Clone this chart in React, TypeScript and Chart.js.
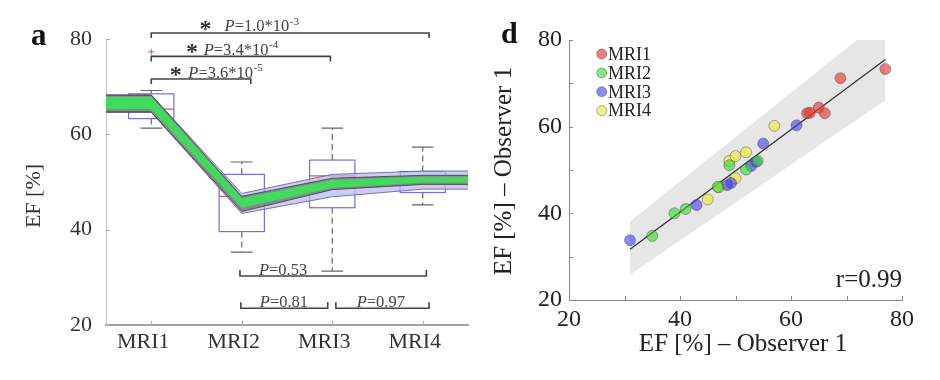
import React, { useEffect, useRef } from "react";
import { Chart, registerables } from "chart.js";
Chart.register(...registerables);

const FONT = "'Liberation Serif', 'Times New Roman', serif";

// ---------- Panel a: EF over visits ----------
const visits = ["MRI1", "MRI2", "MRI3", "MRI4"];
const visitPos = [1, 2, 3, 4];
const boxQ1 = [63.3, 39.6, 44.6, 47.8];
const boxMedian = [65.3, 47.0, 51.3, 50.8];
const boxQ3 = [68.5, 51.6, 54.6, 52.2];
const whiskerLow = [61.3, 35.3, 31.3, 45.2];
const whiskerHigh = [69.2, 54.2, 61.3, 57.3];
const outlierX = [1];
const outlierY = [77.3];

const bandX = [0.5, 1, 2, 3, 4, 4.5];
const greenUpper = [67.9, 67.9, 46.6, 50.4, 51.1, 51.1];
const greenLower = [65.3, 65.3, 44.6, 48.8, 49.9, 49.9];
const grayUpper = [68.2, 68.2, 47.0, 50.8, 51.4, 51.4];
const grayLower = [64.7, 64.7, 43.8, 48.4, 49.5, 49.5];
const lavUpper = [68.3, 68.3, 47.6, 51.6, 52.3, 52.3];
const lavLower = [64.6, 64.6, 43.4, 46.9, 48.5, 48.5];

const bracketFrom = [1.0, 1.0, 1.0, 1.98, 1.99, 3.04];
const bracketTo = [4.07, 2.98, 2.1, 4.04, 2.95, 4.07];
const bracketLevel = [81.26, 76.35, 71.6, 30.27, 23.5, 23.5];
const bracketText = ["P=1.0*10", "P=3.4*10", "P=3.6*10", "P=0.53", "P=0.81", "P=0.97"];
const bracketExp = ["-3", "-4", "-5", "", "", ""];
const bracketStar = [true, true, true, false, false, false];
const bracketStarX = [1.6, 1.45, 1.27, 0, 0, 0];
const bracketTextX = [1.81, 1.58, 1.41, 2.19, 2.2, 3.27];

// ---------- Panel d: observer agreement ----------
const seriesNames = ["MRI1", "MRI2", "MRI3", "MRI4"];
const seriesColors = [
  "rgba(235,55,55,0.65)",
  "rgba(50,215,50,0.6)",
  "rgba(60,60,235,0.6)",
  "rgba(235,235,60,0.65)",
];
const mri1X = [77.0, 68.9, 62.9, 63.4, 65.0, 66.1];
const mri1Y = [73.3, 71.2, 63.1, 63.2, 64.4, 63.1];
const mri2X = [35.0, 39.0, 41.0, 46.8, 48.9, 51.9, 54.0];
const mri2Y = [34.8, 40.0, 41.0, 46.1, 51.1, 50.1, 52.1];
const mri3X = [31.0, 43.0, 48.5, 49.2, 52.8, 53.7, 55.0, 61.0];
const mri3Y = [33.8, 41.9, 46.5, 47.0, 50.9, 51.9, 56.1, 60.3];
const mri4X = [45.0, 47.0, 48.9, 50.0, 50.0, 51.9, 57.0];
const mri4Y = [43.2, 46.0, 52.1, 53.2, 48.1, 54.1, 60.2];
const regX = [31, 77];
const regY = [31.7, 75.5];
const piX = [31, 77];
const piUpper = [38.1, 85.3];
const piLower = [25.8, 66.1];
const rText = "r=0.99";

const mk = (xs: number[], ys: number[]) => xs.map((x, i) => ({ x, y: ys[i] }));

function drawPText(ctx: CanvasRenderingContext2D, x: number, baseline: number, text: string, exp: string, size: number) {
  ctx.fillStyle = "#444";
  ctx.textBaseline = "alphabetic";
  ctx.textAlign = "left";
  ctx.font = `italic ${size}px ${FONT}`;
  ctx.fillText(text[0], x, baseline);
  let w = ctx.measureText(text[0]).width;
  ctx.font = `${size}px ${FONT}`;
  const rest = text.slice(1);
  ctx.fillText(rest, x + w, baseline);
  w += ctx.measureText(rest).width;
  if (exp) {
    ctx.font = `${Math.round(size * 0.65)}px ${FONT}`;
    ctx.fillText(exp, x + w + 0.5, baseline - size * 0.42);
  }
}

const leftPlugin = {
  id: "leftDecor",
  beforeDatasetsDraw(chart: any) {
    const { ctx, scales } = chart;
    const x = scales.x, y = scales.y;
    ctx.save();
    for (let i = 0; i < visitPos.length; i++) {
      const cx = x.getPixelForValue(visitPos[i]);
      const hw = x.getPixelForValue(visitPos[i] + 0.25) - cx;
      const cw = x.getPixelForValue(visitPos[i] + 0.12) - cx;
      const yq1 = y.getPixelForValue(boxQ1[i]);
      const yq3 = y.getPixelForValue(boxQ3[i]);
      const ylo = y.getPixelForValue(whiskerLow[i]);
      const yhi = y.getPixelForValue(whiskerHigh[i]);
      const ymed = y.getPixelForValue(boxMedian[i]);
      ctx.strokeStyle = "#666";
      ctx.lineWidth = 1.2;
      ctx.setLineDash([6, 4]);
      ctx.beginPath();
      ctx.moveTo(cx, yq3); ctx.lineTo(cx, yhi);
      ctx.moveTo(cx, yq1); ctx.lineTo(cx, ylo);
      ctx.stroke();
      ctx.setLineDash([]);
      ctx.beginPath();
      ctx.moveTo(cx - cw, yhi); ctx.lineTo(cx + cw, yhi);
      ctx.moveTo(cx - cw, ylo); ctx.lineTo(cx + cw, ylo);
      ctx.stroke();
      ctx.strokeStyle = "#6f6fe6";
      ctx.lineWidth = 1.2;
      ctx.strokeRect(cx - hw, yq3, 2 * hw, yq1 - yq3);
      ctx.strokeStyle = "#e85050";
      ctx.beginPath();
      ctx.moveTo(cx - hw, ymed); ctx.lineTo(cx + hw, ymed);
      ctx.stroke();
    }
    ctx.strokeStyle = "#e85050";
    ctx.lineWidth = 1;
    for (let i = 0; i < outlierX.length; i++) {
      const px = x.getPixelForValue(outlierX[i]);
      const py = y.getPixelForValue(outlierY[i]);
      ctx.beginPath();
      ctx.moveTo(px - 3, py); ctx.lineTo(px + 3, py);
      ctx.moveTo(px, py - 3); ctx.lineTo(px, py + 3);
      ctx.stroke();
    }
    ctx.restore();
  },
  afterDraw(chart: any) {
    const { ctx, scales, chartArea } = chart;
    const x = scales.x, y = scales.y;
    ctx.save();
    ctx.strokeStyle = "#aaa";
    ctx.lineWidth = 1;
    ctx.beginPath();
    for (const t of y.ticks) {
      const py = Math.round(y.getPixelForValue(t.value)) + 0.5;
      ctx.moveTo(chartArea.left, py); ctx.lineTo(chartArea.left + 4, py);
    }
    for (const v of visitPos) {
      const px = Math.round(x.getPixelForValue(v)) + 0.5;
      ctx.moveTo(px, chartArea.bottom); ctx.lineTo(px, chartArea.bottom - 4);
    }
    ctx.stroke();
    ctx.strokeStyle = "#444";
    ctx.lineWidth = 1.6;
    for (let i = 0; i < bracketFrom.length; i++) {
      const x1 = x.getPixelForValue(bracketFrom[i]);
      const x2 = x.getPixelForValue(bracketTo[i]);
      const py = y.getPixelForValue(bracketLevel[i]);
      const d = bracketStar[i] ? 5 : -6;
      ctx.beginPath();
      ctx.moveTo(x1, py + d); ctx.lineTo(x1, py); ctx.lineTo(x2, py); ctx.lineTo(x2, py + d);
      ctx.stroke();
      if (bracketStar[i]) {
        ctx.fillStyle = "#333";
        ctx.font = `bold 24px ${FONT}`;
        ctx.textAlign = "center";
        ctx.textBaseline = "alphabetic";
        ctx.fillText("*", x.getPixelForValue(bracketStarX[i]), py + 3);
      }
      drawPText(ctx, x.getPixelForValue(bracketTextX[i]), py - 1.5, bracketText[i], bracketExp[i], 16.5);
    }
    ctx.fillStyle = "#111";
    ctx.font = `bold 31px ${FONT}`;
    ctx.textAlign = "left";
    ctx.textBaseline = "alphabetic";
    ctx.fillText("a", 31, 45);
    ctx.save();
    ctx.translate(40, 196);
    ctx.rotate(-Math.PI / 2);
    ctx.fillStyle = "#333";
    ctx.font = `22px ${FONT}`;
    ctx.textAlign = "center";
    ctx.textBaseline = "alphabetic";
    ctx.fillText("EF [%]", 0, 0);
    ctx.restore();
    ctx.restore();
  },
};

const rightPlugin = {
  id: "rightDecor",
  afterDraw(chart: any) {
    const { ctx, scales, chartArea } = chart;
    const x = scales.x, y = scales.y;
    ctx.save();
    ctx.strokeStyle = "#888";
    ctx.lineWidth = 1;
    ctx.beginPath();
    for (const t of y.ticks) {
      const py = Math.round(y.getPixelForValue(t.value)) + 0.5;
      ctx.moveTo(chartArea.left, py); ctx.lineTo(chartArea.left + 4, py);
    }
    for (const t of x.ticks) {
      const px = Math.round(x.getPixelForValue(t.value)) + 0.5;
      ctx.moveTo(px, chartArea.bottom); ctx.lineTo(px, chartArea.bottom - 4);
    }
    ctx.stroke();
    for (let i = 0; i < seriesNames.length; i++) {
      const cy = 54 + i * 18.9;
      ctx.beginPath();
      ctx.arc(131.7, cy, 5, 0, Math.PI * 2);
      ctx.fillStyle = seriesColors[i];
      ctx.fill();
      ctx.strokeStyle = "rgba(70,70,70,0.55)";
      ctx.lineWidth = 0.8;
      ctx.stroke();
      ctx.fillStyle = "#222";
      ctx.font = `18px ${FONT}`;
      ctx.textAlign = "left";
      ctx.textBaseline = "middle";
      ctx.fillText(seriesNames[i], 138, cy + 1);
    }
    ctx.fillStyle = "#222";
    ctx.font = `25px ${FONT}`;
    ctx.textAlign = "right";
    ctx.textBaseline = "alphabetic";
    ctx.fillText(rText, chartArea.right, 287);
    ctx.fillStyle = "#111";
    ctx.font = `bold 30px ${FONT}`;
    ctx.textAlign = "left";
    ctx.fillText("d", 31, 43);
    ctx.fillStyle = "#222";
    ctx.font = `25px ${FONT}`;
    ctx.textAlign = "center";
    ctx.textBaseline = "middle";
    ctx.fillText("EF [%] \u2013 Observer 1", 273, 344);
    ctx.save();
    ctx.translate(34, 171);
    ctx.rotate(-Math.PI / 2);
    ctx.fillText("EF [%] \u2013 Observer 1", 0, 0);
    ctx.restore();
    ctx.restore();
  },
};

function leftConfig(): any {
  const line = { pointRadius: 0, pointHoverRadius: 0, tension: 0 };
  return {
    type: "line",
    data: {
      datasets: [
        { ...line, data: mk(bandX, greenUpper), borderWidth: 0, borderColor: "rgba(0,0,0,0)", fill: false },
        { ...line, data: mk(bandX, greenLower), borderWidth: 0, borderColor: "rgba(0,0,0,0)", fill: "-1", backgroundColor: "#3fdc5c" },
        { ...line, data: mk(bandX, grayUpper), borderWidth: 1, borderColor: "rgba(60,60,60,0.8)", fill: false },
        { ...line, data: mk(bandX, grayLower), borderWidth: 1, borderColor: "rgba(60,60,60,0.8)", fill: "-1", backgroundColor: "rgba(125,125,125,0.85)" },
        { ...line, data: mk(bandX, lavUpper), borderWidth: 1, borderColor: "rgba(90,90,150,0.8)", fill: false },
        { ...line, data: mk(bandX, lavLower), borderWidth: 1, borderColor: "rgba(90,90,150,0.8)", fill: "-1", backgroundColor: "rgba(185,185,240,0.75)" },
      ],
    },
    options: {
      responsive: false,
      maintainAspectRatio: false,
      devicePixelRatio: 1,
      animation: false,
      events: [],
      layout: { padding: { left: 0, right: 2, top: 39, bottom: 0 } },
      plugins: { legend: { display: false }, tooltip: { enabled: false } },
      scales: {
        x: {
          type: "linear",
          min: 0.5,
          max: 4.5,
          afterBuildTicks: (ax: any) => { ax.ticks = visitPos.map((v) => ({ value: v })); },
          afterFit: (s: any) => { s.height = 55; },
          ticks: {
            callback: (v: number) => visits[visitPos.indexOf(v)] ?? "",
            font: { family: FONT, size: 22 },
            color: "#333",
            padding: 4,
            labelOffset: -8,
            maxRotation: 0,
            autoSkip: false,
          },
          grid: { drawOnChartArea: false, drawTicks: false },
          border: { display: true, color: "#9aa894", width: 2 },
        },
        y: {
          min: 20,
          max: 80,
          afterFit: (s: any) => { s.width = 106; },
          ticks: { stepSize: 20, font: { family: FONT, size: 22 }, color: "#333", padding: 14 },
          grid: { drawOnChartArea: false, drawTicks: false },
          border: { display: true, color: "#c4c4c4", width: 1 },
        },
      },
    },
    plugins: [leftPlugin],
  };
}

function rightConfig(): any {
  const pts = { pointRadius: 5.5, pointBorderWidth: 0.8, pointBorderColor: "rgba(70,70,70,0.55)", showLine: false };
  return {
    type: "scatter",
    data: {
      datasets: [
        { ...pts, label: seriesNames[0], data: mk(mri1X, mri1Y), backgroundColor: seriesColors[0] },
        { ...pts, label: seriesNames[1], data: mk(mri2X, mri2Y), backgroundColor: seriesColors[1] },
        { ...pts, label: seriesNames[2], data: mk(mri3X, mri3Y), backgroundColor: seriesColors[2] },
        { ...pts, label: seriesNames[3], data: mk(mri4X, mri4Y), backgroundColor: seriesColors[3] },
        { data: mk(regX, regY), showLine: true, pointRadius: 0, borderColor: "#333", borderWidth: 1.3, fill: false },
        { data: mk(piX, piUpper), showLine: true, pointRadius: 0, borderWidth: 0, borderColor: "rgba(0,0,0,0)", fill: "+1", backgroundColor: "#e6e6e6" },
        { data: mk(piX, piLower), showLine: true, pointRadius: 0, borderWidth: 0, borderColor: "rgba(0,0,0,0)", fill: false },
      ],
    },
    options: {
      responsive: false,
      maintainAspectRatio: false,
      devicePixelRatio: 1,
      animation: false,
      events: [],
      layout: { padding: { left: 0, right: 38, top: 40, bottom: 0 } },
      plugins: { legend: { display: false }, tooltip: { enabled: false } },
      scales: {
        x: {
          type: "linear",
          min: 20,
          max: 80,
          afterFit: (s: any) => { s.height = 80; },
          ticks: {
            stepSize: 10,
            callback: (v: number) => (v % 20 === 0 ? String(v) : ""),
            font: { family: FONT, size: 24 },
            color: "#222",
            padding: 5,
            maxRotation: 0,
            autoSkip: false,
          },
          grid: { drawOnChartArea: false, drawTicks: false },
          border: { display: true, color: "#888", width: 1 },
        },
        y: {
          min: 20,
          max: 80,
          afterFit: (s: any) => { s.width = 99; },
          ticks: {
            stepSize: 10,
            callback: (v: number) => (v % 20 === 0 ? String(v) : ""),
            font: { family: FONT, size: 24 },
            color: "#222",
            padding: 7,
            autoSkip: false,
          },
          grid: { drawOnChartArea: false, drawTicks: false },
          border: { display: true, color: "#888", width: 1 },
        },
      },
    },
    plugins: [rightPlugin],
  };
}

export default function App() {
  const leftRef = useRef<HTMLCanvasElement>(null);
  const rightRef = useRef<HTMLCanvasElement>(null);
  useEffect(() => {
    const c1 = new Chart(leftRef.current as HTMLCanvasElement, leftConfig());
    const c2 = new Chart(rightRef.current as HTMLCanvasElement, rightConfig());
    return () => {
      c1.destroy();
      c2.destroy();
    };
  }, []);
  return (
    <div style={{ position: "absolute", left: 0, top: 0, width: 940, height: 380, background: "#fff", display: "flex" }}>
      <canvas ref={leftRef} width={470} height={380} style={{ display: "block", width: 470, height: 380 }} />
      <canvas ref={rightRef} width={470} height={380} style={{ display: "block", width: 470, height: 380 }} />
    </div>
  );
}
